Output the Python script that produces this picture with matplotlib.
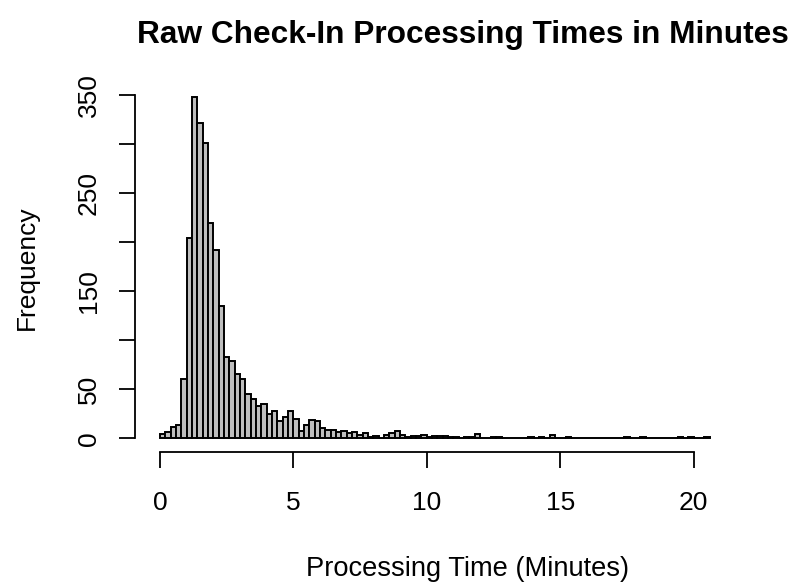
import numpy as np
import matplotlib
matplotlib.use("Agg")
import matplotlib.pyplot as plt

plt.rcParams['font.family'] = ['Liberation Sans', 'DejaVu Sans']

# histogram counts, 0.2-minute bins starting at 0
bin_width = 0.2
counts = [
    4, 6, 12, 14, 60, 204, 348, 321, 301, 220,
    192, 135, 83, 79, 66, 60, 45, 40, 33, 35,
    25, 28, 18, 22, 28, 20, 8, 14, 19, 18,
    11, 9, 9, 6, 8, 5, 6, 3, 5, 1,
    2, 0, 3, 5, 8, 3, 1, 2, 2, 3,
    1, 2, 2, 2, 1, 1, 0, 1, 1, 4,
    0, 0, 1, 1, 0, 0, 0, 0, 0, 1,
    0, 1, 0, 3, 0, 0, 1, 0, 0, 0,
    0, 0, 0, 0, 0, 0, 0, 1, 0, 0,
    1, 0, 0, 0, 0, 0, 0, 1, 0, 1,
    0, 0, 1,
]
x_ticks = [0, 5, 10, 15, 20]
y_ticks = [0, 50, 100, 150, 200, 250, 300, 350]
y_labels = ["0", "50", "", "150", "", "250", "", "350"]

W, H = 802, 586
fig = plt.figure(figsize=(W / 100, H / 100), dpi=100)
ax = fig.add_axes([135 / W, 1 - 452 / H, 660 / W, (452 - 83) / H])

lefts = np.arange(len(counts)) * bin_width
ax.bar(lefts, counts, width=bin_width, align='edge',
       color='#BEBEBE', edgecolor='black', linewidth=1.4)

ax.set_xlim(-0.937, 23.8)
ax.set_ylim(-13.9, 362.2)

for side in ['top', 'right']:
    ax.spines[side].set_visible(False)
ax.spines['left'].set_bounds(0, 350)
ax.spines['bottom'].set_bounds(0, 20)
for side in ['left', 'bottom']:
    ax.spines[side].set_linewidth(1.3)

ax.set_xticks(x_ticks)
ax.set_xticklabels([str(t) for t in x_ticks])
ax.set_yticks(y_ticks)
ax.set_yticklabels(y_labels)
ax.tick_params(axis='both', length=11.5, width=1.3, labelsize=19)
ax.tick_params(axis='x', pad=16.5)
ax.tick_params(axis='y', pad=13, labelrotation=90)
for lbl in ax.get_yticklabels():
    lbl.set_va('center')

fig.text(462.5 / W, 1 - 43.5 / H, "Raw Check-In Processing Times in Minutes",
         ha='center', va='baseline', fontsize=22.8, fontweight='bold')
fig.text(467.5 / W, 1 - 576 / H, "Processing Time (Minutes)",
         ha='center', va='baseline', fontsize=19.6)
fig.text(26.5 / W, 1 - 267.5 / H, "Frequency", rotation=90,
         ha='center', va='center', fontsize=19)

fig.savefig("out.png", dpi=100)
